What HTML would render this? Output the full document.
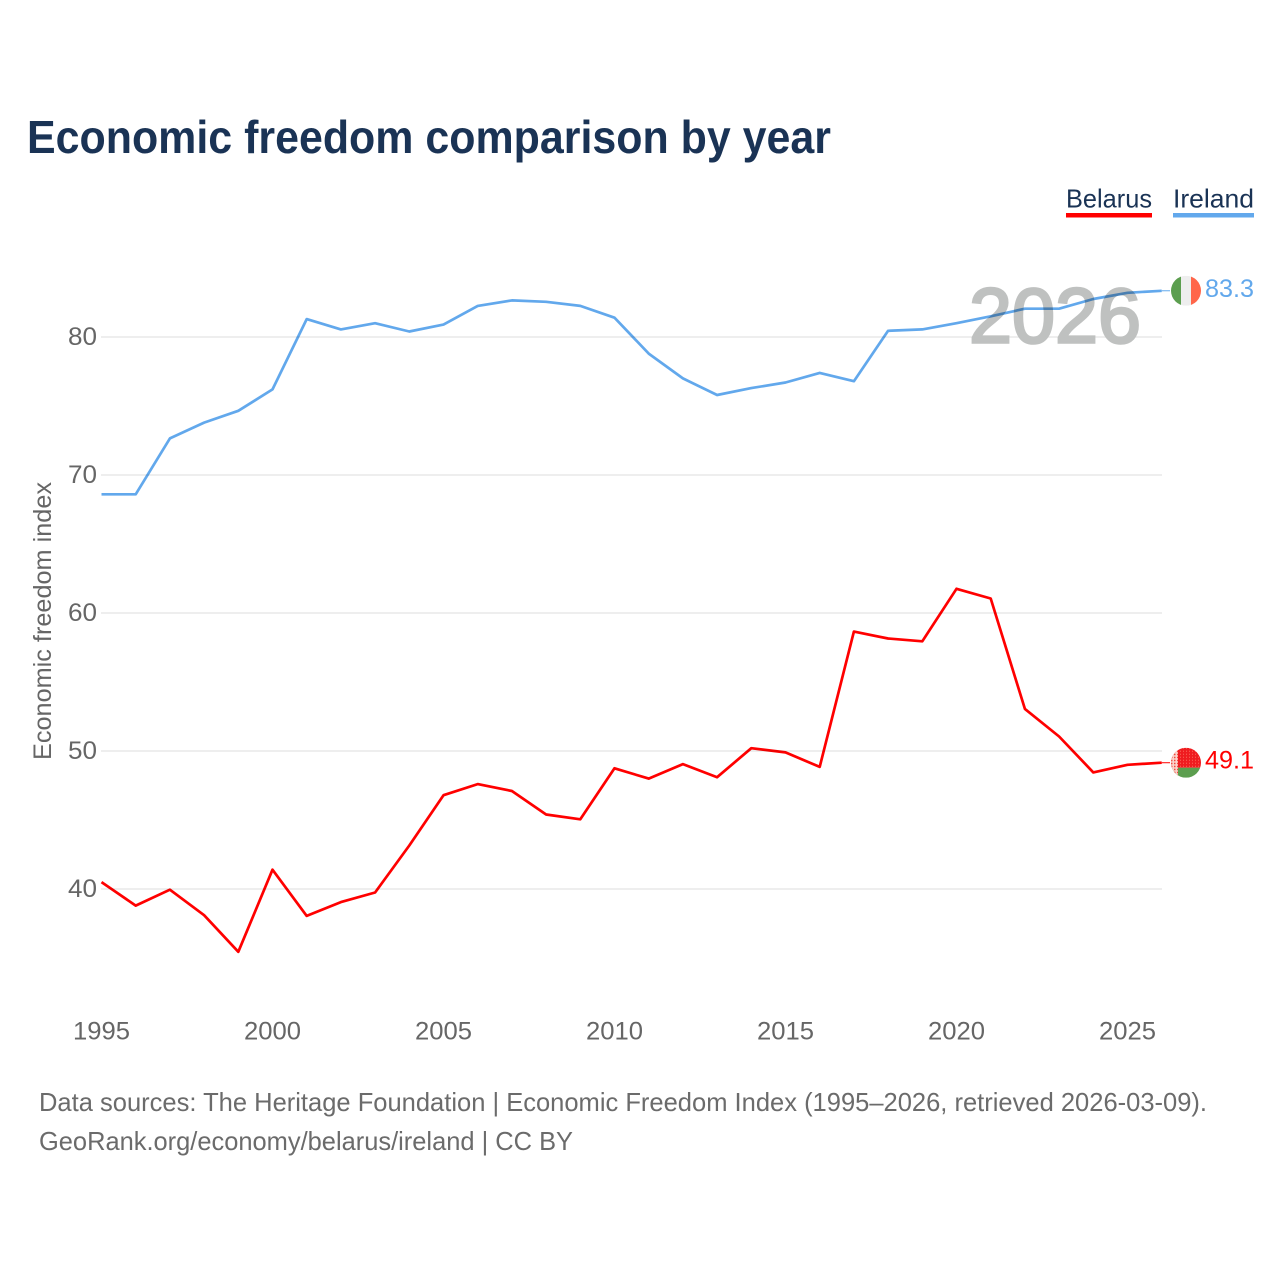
<!DOCTYPE html>
<html lang="en">
<head>
<meta charset="utf-8">
<title>Economic freedom comparison by year</title>
<style>
html,body{margin:0;padding:0;background:#fff;}
svg{display:block;font-family:"Liberation Sans",sans-serif;}
</style>
</head>
<body>
<svg id="chart" xmlns="http://www.w3.org/2000/svg" width="1280" height="1280" viewBox="0 0 1280 1280">
  <defs>
    <clipPath id="flag-clip-ie"><circle cx="0" cy="0" r="15"/></clipPath>
    <clipPath id="flag-clip-by"><circle cx="0" cy="0" r="15"/></clipPath>
    <pattern id="by-red-texture" width="3" height="3" patternUnits="userSpaceOnUse"><rect width="3" height="3" fill="#ef1c20"/><rect width="1" height="1" fill="#f96a5c"/></pattern>
    <pattern id="by-ornament-texture" width="3" height="3" patternUnits="userSpaceOnUse"><rect width="3" height="3" fill="#fbd4cc"/><rect width="1.5" height="1.5" fill="#f0483c"/></pattern>
  </defs>
  <rect width="1280" height="1280" fill="#fff"/>
  <text x="27" y="153" font-size="46" font-weight="700" fill="#1a3355" textLength="804" lengthAdjust="spacingAndGlyphs">Economic freedom comparison by year</text>
  <g id="grid"></g>
  <text x="969" y="342.5" font-size="78" font-weight="400" fill="#bfc1c0" stroke="#bfc1c0" stroke-width="2.6" textLength="172" lengthAdjust="spacingAndGlyphs">2026</text>
  <g id="y-ticks"></g>
  <g id="x-ticks"></g>
  <text transform="translate(51,760) rotate(-90)" font-size="25" fill="#666" textLength="278" lengthAdjust="spacingAndGlyphs">Economic freedom index</text>
  <g id="series" style="mix-blend-mode:multiply"></g>
  <g>
    <g>
      <text x="1066" y="207.5" font-size="26" fill="#1a3355" textLength="86" lengthAdjust="spacingAndGlyphs">Belarus</text>
      <rect x="1066" y="213" width="86" height="4.5" fill="#ff0000"/>
    </g>
    <g>
      <text x="1173" y="207.5" font-size="26" fill="#1a3355" textLength="81" lengthAdjust="spacingAndGlyphs">Ireland</text>
      <rect x="1173" y="213" width="81" height="4.5" fill="#62a8ec"/>
    </g>
  </g>
  <g id="flag-ireland">
    <g clip-path="url(#flag-clip-ie)">
      <rect x="-15" y="-15" width="10" height="30" fill="#5c9e4f"/>
      <rect x="-5" y="-15" width="10" height="30" fill="#eeeeee"/>
      <rect x="5" y="-15" width="10" height="30" fill="#ff664a"/>
    </g>
  </g>
  <g id="flag-belarus">
    <g clip-path="url(#flag-clip-by)">
      <rect x="-15" y="-15" width="30" height="20" fill="url(#by-red-texture)"/>
      <rect x="-15" y="5" width="30" height="10" fill="#5c9e4f"/>
      <rect x="-15" y="-15" width="7" height="30" fill="url(#by-ornament-texture)"/>
    </g>
  </g>
  <text id="value-ireland" x="1205" font-size="25" fill="#62a8ec" textLength="49" lengthAdjust="spacingAndGlyphs"></text>
  <text id="value-belarus" x="1205" font-size="25" fill="#ff0000" textLength="49" lengthAdjust="spacingAndGlyphs"></text>
  <g>
    <text x="39" y="1111" font-size="26" fill="#6b6b6b" textLength="1168" lengthAdjust="spacingAndGlyphs">Data sources: The Heritage Foundation | Economic Freedom Index (1995–2026, retrieved 2026-03-09).</text>
    <text x="39" y="1150" font-size="26" fill="#6b6b6b" textLength="534" lengthAdjust="spacingAndGlyphs">GeoRank.org/economy/belarus/ireland | CC BY</text>
  </g>
</svg>
<script>
const years = [1995,1996,1997,1998,1999,2000,2001,2002,2003,2004,2005,2006,2007,2008,2009,2010,2011,2012,2013,2014,2015,2016,2017,2018,2019,2020,2021,2022,2023,2024,2025,2026];
const belarus = [40.5,38.8,39.95,38.1,35.45,41.4,38.05,39.05,39.75,43.15,46.8,47.6,47.1,45.4,45.05,48.75,48.0,49.05,48.1,50.2,49.9,48.85,58.65,58.15,57.95,61.75,61.05,53.05,51.05,48.45,49.0,49.15];
const ireland = [68.6,68.6,72.65,73.8,74.65,76.2,81.3,80.55,81.0,80.4,80.9,82.25,82.65,82.55,82.25,81.4,78.8,77.0,75.8,76.3,76.7,77.4,76.8,80.45,80.55,81.0,81.5,82.05,82.05,82.75,83.2,83.35];
const xTicks = [1995,2000,2005,2010,2015,2020,2025];
const yTicks = [40,50,60,70,80];

const NS = 'http://www.w3.org/2000/svg';
const xScale = function (year) { return 101.5 + (year - 1995) * 34.2; };
const yScale = function (value) { return 889 - (value - 40) * 13.8; };
const make = function (tag, parentId) {
  const el = document.createElementNS(NS, tag);
  document.getElementById(parentId).appendChild(el);
  return el;
};

yTicks.forEach(function (tick) {
  const line = make('line', 'grid');
  
  
  line.setAttribute('x1', 101);
  line.setAttribute('x2', 1162);
  line.setAttribute('y1', yScale(tick));
  line.setAttribute('y2', yScale(tick));
  line.setAttribute('stroke', '#e9e9e9');
  line.setAttribute('stroke-width', '1.4');

  const label = make('text', 'y-ticks');
  
  
  label.setAttribute('x', 68);
  label.setAttribute('y', yScale(tick) + 8);
  label.setAttribute('font-size', '25');
  label.setAttribute('fill', '#666');
  label.setAttribute('textLength', '29');
  label.setAttribute('lengthAdjust', 'spacingAndGlyphs');
  label.textContent = tick;
});

xTicks.forEach(function (tick) {
  const label = make('text', 'x-ticks');
  
  
  label.setAttribute('x', xScale(tick) - 28.5);
  label.setAttribute('y', 1039.5);
  label.setAttribute('font-size', '25');
  label.setAttribute('fill', '#666');
  label.setAttribute('textLength', '57');
  label.setAttribute('lengthAdjust', 'spacingAndGlyphs');
  label.textContent = tick;
});

const drawSeries = function (values, color, seriesName) {
  const points = values.map(function (v, i) { return xScale(years[i]).toFixed(1) + ',' + yScale(v).toFixed(1); }).join(' ');
  const line = make('polyline', 'series');
  
  
  line.setAttribute('points', points);
  line.setAttribute('fill', 'none');
  line.setAttribute('stroke', color);
  line.setAttribute('stroke-width', '2.7');
  line.setAttribute('stroke-linejoin', 'round');

  const lastY = yScale(values[values.length - 1]);
  const lead = make('line', 'series');
  
  
  lead.setAttribute('x1', xScale(years[years.length - 1]));
  lead.setAttribute('x2', 1170);
  lead.setAttribute('y1', lastY);
  lead.setAttribute('y2', lastY);
  lead.setAttribute('stroke', color);
  lead.setAttribute('stroke-width', '1');

  document.getElementById('flag-' + seriesName).setAttribute('transform', 'translate(1186,' + lastY + ')');
  const valueLabel = document.getElementById('value-' + seriesName);
  valueLabel.setAttribute('y', lastY + 6);
  valueLabel.textContent = values[values.length - 1].toFixed(1);
};

drawSeries(ireland, '#62a8ec', 'ireland');
drawSeries(belarus, '#ff0000', 'belarus');
</script>
</body>
</html>
